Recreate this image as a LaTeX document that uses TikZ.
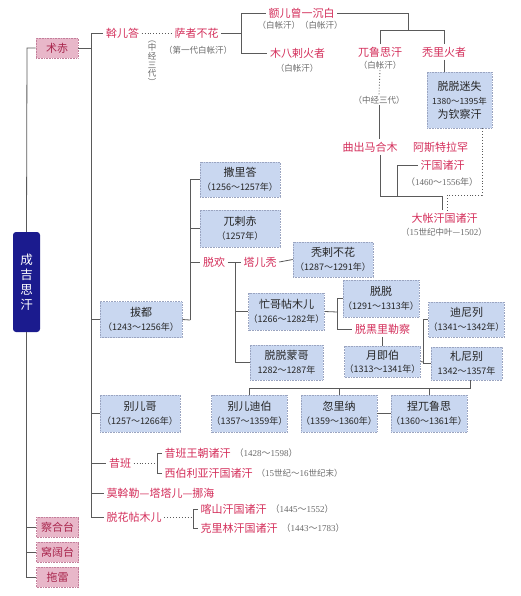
\documentclass[tikz,border=0pt]{standalone}
\usepackage{fontspec}
\setmainfont{Liberation Serif}
\newfontfamily\cjk{Noto Sans CJK SC}
\definecolor{boxblue}{HTML}{C9D7F0}
\definecolor{boxedge}{HTML}{9AA4C0}
\definecolor{pinkbox}{HTML}{E8B7C9}
\definecolor{pinkedge}{HTML}{C27E9A}
\definecolor{darkblue}{HTML}{1B1B8E}
\definecolor{nred}{HTML}{D42F5B}
\definecolor{pred}{HTML}{A8254C}
\definecolor{linegray}{HTML}{5A5A5A}
\definecolor{ngray}{HTML}{6A6A6A}
\newcommand\nmf{\cjk\fontsize{11}{13}\selectfont}
\newcommand\yrf{\fontsize{9}{11}\selectfont}
\newcommand\gtf{\cjk\fontsize{8.5}{10}\selectfont}
\newcommand\Yr[2]{{\yrf{\cjk（}#1{\cjk ～}#2{\cjk 年）}}}
\newcommand\Yn[2]{{\yrf#1{\cjk ～}#2{\cjk 年}}}
\tikzset{
  ln/.style={draw=linegray, line width=0.8pt},
  dl/.style={draw=linegray, line width=0.9pt, dotted},
  bb/.style={fill=boxblue, draw=boxedge, densely dotted, line width=0.6pt, align=center, inner sep=0pt, text=black!85, font=\nmf},
  pb/.style={fill=pinkbox, draw=pinkedge, densely dotted, line width=0.6pt, inner sep=0pt, text=pred, font=\nmf, minimum width=42pt, minimum height=20pt},
  rt/.style={text=nred, font=\nmf, inner sep=2.5pt},
  gt/.style={text=ngray, font=\gtf, inner sep=1pt},
}
\begin{document}
\begin{tikzpicture}[x=1pt,y=-1pt]
\useasboundingbox[fill=white] (0,0) rectangle (520,596);

% ---- left column
\node[fill=darkblue, rounded corners=3pt, minimum width=27pt, minimum height=100pt, text=white, align=center, font=\cjk\fontsize{12.5}{15}\selectfont, inner sep=0pt] (cjsh) at (26.5,282) {成\\吉\\思\\汗};
\node[pb] (zc) at (57,48) {术赤};
\node[pb] (ch) at (57.5,527) {察合台};
\node[pb] (wk) at (57.5,552) {窝阔台};
\node[pb] (tl) at (57.5,577) {拖雷};
\coordinate (t0) at (27,48);
\draw[ln] (zc.west) -- (t0) -- (cjsh.north);
\draw[ln] (cjsh.south) |- (ch.west);
\draw[ln] (cjsh.south) |- (wk.west);
\draw[ln] (cjsh.south) |- (tl.west);

% ---- 术赤 branch
\coordinate (v1) at (91,48);
\draw[ln] (zc.east) -- (v1);
\node[rt] (weh) at (122.5,33) {斡儿答};
\node[rt] (szbh) at (196.5,33) {萨者不花};
\node[gt] (n1) at (198,50) {（第一代白帐汗）};
\node[gt, align=center, font=\cjk\fontsize{8.5}{8.7}\selectfont] (n2) at (152,63) {︵\\中\\经\\三\\代\\︶};
\draw[ln] (v1) |- (weh.west);
\draw[dl] (weh.east) -- (szbh.west);

\node[rt] (erz) at (301.5,13) {额儿曾一沉白};
\node[gt] (n3) at (300,25) {（白帐汗）（白帐汗）};
\node[rt] (mbl) at (297.5,53) {木八剌火者};
\node[gt] (n4) at (297,68) {（白帐汗）};
\coordinate (b1) at (241,33);
\draw[ln] (szbh.east) -- (b1);
\draw[ln] (b1) |- (erz.west);
\draw[ln] (b1) |- (mbl.west);

\node[rt] (wls) at (380,52) {兀鲁思汗};
\node[gt] (n5) at (380,65) {（白帐汗）};
\node[rt] (tlh) at (444,52) {秃里火者};
\coordinate (c1) at (408,30);
\draw[ln] (erz.east) -| (c1);
\draw[ln] (c1) -| (wls.north);
\draw[ln] (c1) -| (tlh.north);
\node[gt] (n6) at (379,100) {（中经三代）};
\draw[dl] (n5.south) -- (n6.north);
\node[rt] (qcm) at (370,147) {曲出马合木};
\draw[ln] (n6.south) -- (n6.south |- qcm.north);

\node[bb, minimum width=65pt, minimum height=56pt] (ttms) at (459.5,100) {脱脱迷失\\[1pt]{\fontsize{8.5}{10}\selectfont 1380{\cjk ～}1395{\cjk 年}}\\[1pt]为钦察汗};
\draw[ln] (tlh.south) -- (tlh.south |- ttms.north);

\node[rt] (ast1) at (440.5,147) {阿斯特拉罕};
\node[rt] (ast2) at (442.5,165) {汗国诸汗};
\node[gt, font=\yrf] (ast3) at (442,182) {{\cjk（}1460{\cjk ～}1556{\cjk 年）}};
\node[rt] (dz) at (444.5,218) {大帐汗国诸汗};
\node[gt] (dzy) at (444,232) {（{\rmfamily\yrf 15}世纪中叶—{\rmfamily\yrf 1502}）};
\coordinate (q1) at (380,196);
\coordinate (q2) at (397,196);
\coordinate (d1) at (482,195);
\draw[ln] (qcm.south -| q1) -- (q1) -| ([xshift=-2pt]dz.north);
\draw[ln] (q2) |- (ast2.west);
\draw[dl] (ttms.south -| d1) -- (d1) -| ([xshift=3pt]dz.north);

% ---- 拔都
\node[bb, minimum width=82pt, minimum height=36pt] (bd) at (141,319.5) {拔都\\[1pt]\Yr{1243}{1256}};
\draw[ln] (v1) |- (bd.west);
\coordinate (v2) at (190,320);
\draw[ln] (bd.east) -- (v2);
\node[bb, minimum width=80pt, minimum height=35pt] (sld) at (240,179.5) {撒里答\\[1pt]\Yr{1256}{1257}};
\node[bb, minimum width=80pt, minimum height=37pt] (lcc) at (240,228.5) {兀剌赤\\[1pt]{\yrf{\cjk（}1257{\cjk 年）}}};
\node[rt] (th) at (214,262) {脱欢};
\draw[ln] (v2) |- (sld.west);
\draw[ln] (v2) |- (lcc.west);
\draw[ln] (v2) |- (th.west);
\node[rt] (ert) at (260,262) {塔儿秃};
\draw[ln] (th.east) -- (ert.west);
\node[bb, minimum width=80pt, minimum height=35pt] (tlbh) at (333,259.5) {秃剌不花\\[1pt]\Yr{1287}{1291}};
\draw[ln] (ert.east) -- (tlbh.west);

\coordinate (v3) at (235,262);
\node[bb, minimum width=73pt, minimum height=37pt] (mgt) at (286.5,311.5) {忙哥帖木儿\\[1pt]\Yr{1266}{1282}};
\node[bb, minimum width=73pt, minimum height=35pt] (ttmg) at (286.5,362.5) {脱脱蒙哥\\[1pt]\Yn{1282}{1287}};
\draw[ln] (v3) |- (mgt.west);
\draw[ln] (v3) |- (ttmg.west);

\coordinate (v4) at (337,312);
\node[bb, minimum width=72pt, minimum height=37pt] (tt) at (381,298.5) {脱脱\\[1pt]\Yr{1291}{1313}};
\node[rt] (thl) at (382.5,329) {脱黑里勒察};
\draw[ln] (mgt.east) -- (v4);
\draw[ln] (v4) |- (tt.west);
\draw[ln] (v4) |- (thl.west);
\node[bb, minimum width=71pt, minimum height=31pt] (yjb) at (382.5,361.5) {月即伯\\[0pt]\Yr{1313}{1341}};
\draw[ln] (thl.south) -- (thl.south |- yjb.north);

\coordinate (v5) at (423,362);
\node[bb, minimum width=71pt, minimum height=35pt] (dnl) at (466.5,319.5) {迪尼列\\[1pt]\Yr{1341}{1342}};
\node[bb, minimum width=71pt, minimum height=33pt] (znb) at (466.5,363.5) {札尼别\\[1pt]\Yn{1342}{1357}};
\draw[ln] (yjb.east) -- (v5);
\draw[ln] (v5) |- (dnl.west);
\draw[ln] (v5) |- (znb.west);

\coordinate (h1) at (470,388);
\node[bb, minimum width=73pt, minimum height=37pt] (edb) at (249.5,413.5) {别儿迪伯\\[1pt]\Yr{1357}{1359}};
\node[bb, minimum width=72pt, minimum height=37pt] (hln) at (339,413.5) {忽里纳\\[1pt]\Yr{1359}{1360}};
\node[bb, minimum width=72pt, minimum height=37pt] (nwl) at (429,413.5) {捏兀鲁思\\[1pt]\Yr{1360}{1361}};
\draw[ln] (znb.south -| h1) -- (h1) -| (edb.north);
\draw[ln] (h1) -| (hln.north);
\draw[ln] (h1) -| (nwl.north);
\draw[ln] (hln.east) -- (nwl.west);

% ---- 别儿哥
\node[bb, minimum width=80pt, minimum height=37pt] (beg) at (140,413.5) {别儿哥\\[1pt]\Yr{1257}{1266}};
\draw[ln] (v1) |- (beg.west);

% ---- 昔班
\node[rt] (xb) at (120,463) {昔班};
\draw[ln] (v1) |- (xb.west);
\coordinate (b2) at (157,463);
\draw[dl] (xb.east) -- (b2);
\node[rt, anchor=west] (xbw) at (162,453) {昔班王朝诸汗};
\node[gt, anchor=west, font=\yrf] (xbwy) at (xbw.east) {{\cjk（}1428{\cjk ～}1598{\cjk ）}};
\node[rt, anchor=west] (xby) at (162,473) {西伯利亚汗国诸汗};
\node[gt, anchor=west] (xbyy) at (xby.east) {（{\rmfamily\yrf 15}世纪～{\rmfamily\yrf 16}世纪末）};
\draw[ln] (b2) |- (xbw.west);
\draw[ln] (b2) |- (xby.west);

\node[rt, anchor=west] (mwl) at (104,493) {莫斡勒—塔塔儿—挪海};
\draw[ln] (v1) |- (mwl.west);

\node[rt, anchor=west] (thtm) at (104,517) {脱花帖木儿};
\draw[ln] (v1) |- (thtm.west);
\coordinate (b3) at (193,517);
\draw[dl] (thtm.east) -- (b3);
\node[rt, anchor=west] (kss) at (198,509) {喀山汗国诸汗};
\node[gt, anchor=west, font=\yrf] (kssy) at (kss.east) {{\cjk（}1445{\cjk ～}1552{\cjk ）}};
\node[rt, anchor=west] (klm) at (198,528) {克里林汗国诸汗};
\node[gt, anchor=west, font=\yrf] (klmy) at (klm.east) {{\cjk（}1443{\cjk ～}1783{\cjk ）}};
\draw[ln] (b3) |- (kss.west);
\draw[ln] (b3) |- (klm.west);
\end{tikzpicture}
\end{document}
